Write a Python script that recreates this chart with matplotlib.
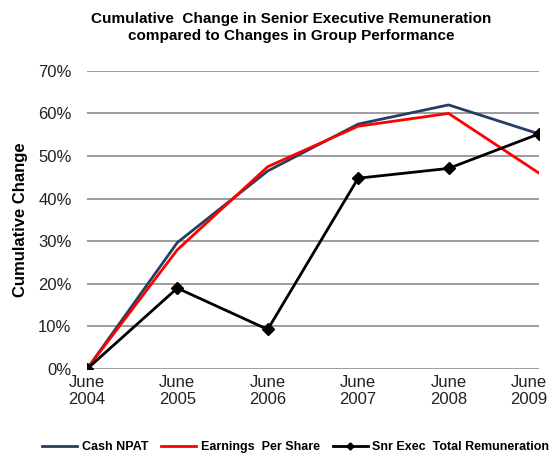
import numpy as np
import matplotlib.pyplot as plt
from matplotlib.ticker import PercentFormatter
from matplotlib.transforms import ScaledTranslation

plt.rcParams['font.family'] = ['Liberation Sans', 'DejaVu Sans']

## Data ####################################################################

years = ['June\n2004', 'June\n2005', 'June\n2006', 'June\n2007', 'June\n2008', 'June\n2009']
cash_npat = [0, 29.7, 46.5, 57.5, 62.0, 55.2]
eps = [0, 28.0, 47.5, 57.0, 60.0, 46.0]
snr_exec = [0, 19.0, 9.3, 44.8, 47.1, 55.2]

## Plot ####################################################################

fig = plt.figure(figsize=(5.5, 4.54), dpi=100)
ax = fig.add_axes([0.158, 0.187, 0.822, 0.657])

x = np.arange(len(years))
ax.plot(x, cash_npat, color='#243F60', lw=2.0, label='Cash NPAT', zorder=3)
ax.plot(x, eps, color='#FF0000', lw=2.0, label='Earnings  Per Share', zorder=4)
ax.plot(x, snr_exec, color='black', lw=2.0, marker='D', ms=6,
        label='Snr Exec  Total Remuneration', zorder=5)

ax.set_xlim(0, 5)
ax.set_ylim(0, 70)
ax.set_yticks(np.arange(0, 71, 10))
ax.yaxis.set_major_formatter(PercentFormatter(decimals=0))
ax.set_xticks(x)
ax.set_xticklabels(years)
ax.tick_params(length=0, labelsize=12, colors='#222222')
ax.tick_params(axis='y', pad=11)
ax.tick_params(axis='x', pad=4)
labs = ax.get_xticklabels()
for lab in labs:
    lab.set_linespacing(1.2)
# last label is pushed inwards so it fits in the figure
labs[-1].set_transform(labs[-1].get_transform() +
                       ScaledTranslation(-10 / 100, 0, fig.dpi_scale_trans))

ax.grid(axis='y', color='#8C8C8C', lw=1.2)
ax.set_axisbelow(True)
for s in ax.spines.values():
    s.set_visible(False)

ax.set_ylabel('Cumulative Change', fontsize=12, fontweight='bold', labelpad=7.5)
fig.text(0.53, 0.94, 'Cumulative  Change in Senior Executive Remuneration\n'
         'compared to Changes in Group Performance',
         ha='center', va='center', fontsize=11, fontweight='bold', linespacing=1.3)

fig.legend(loc='center left', bbox_to_anchor=(42 / 550, 7 / 454), ncol=3, frameon=False,
           prop={'weight': 'bold', 'size': 9}, handlelength=2.8, markerscale=0.6,
           columnspacing=1.0, handletextpad=0.4, borderpad=0, borderaxespad=0)

fig.savefig('out.png', dpi=100)
